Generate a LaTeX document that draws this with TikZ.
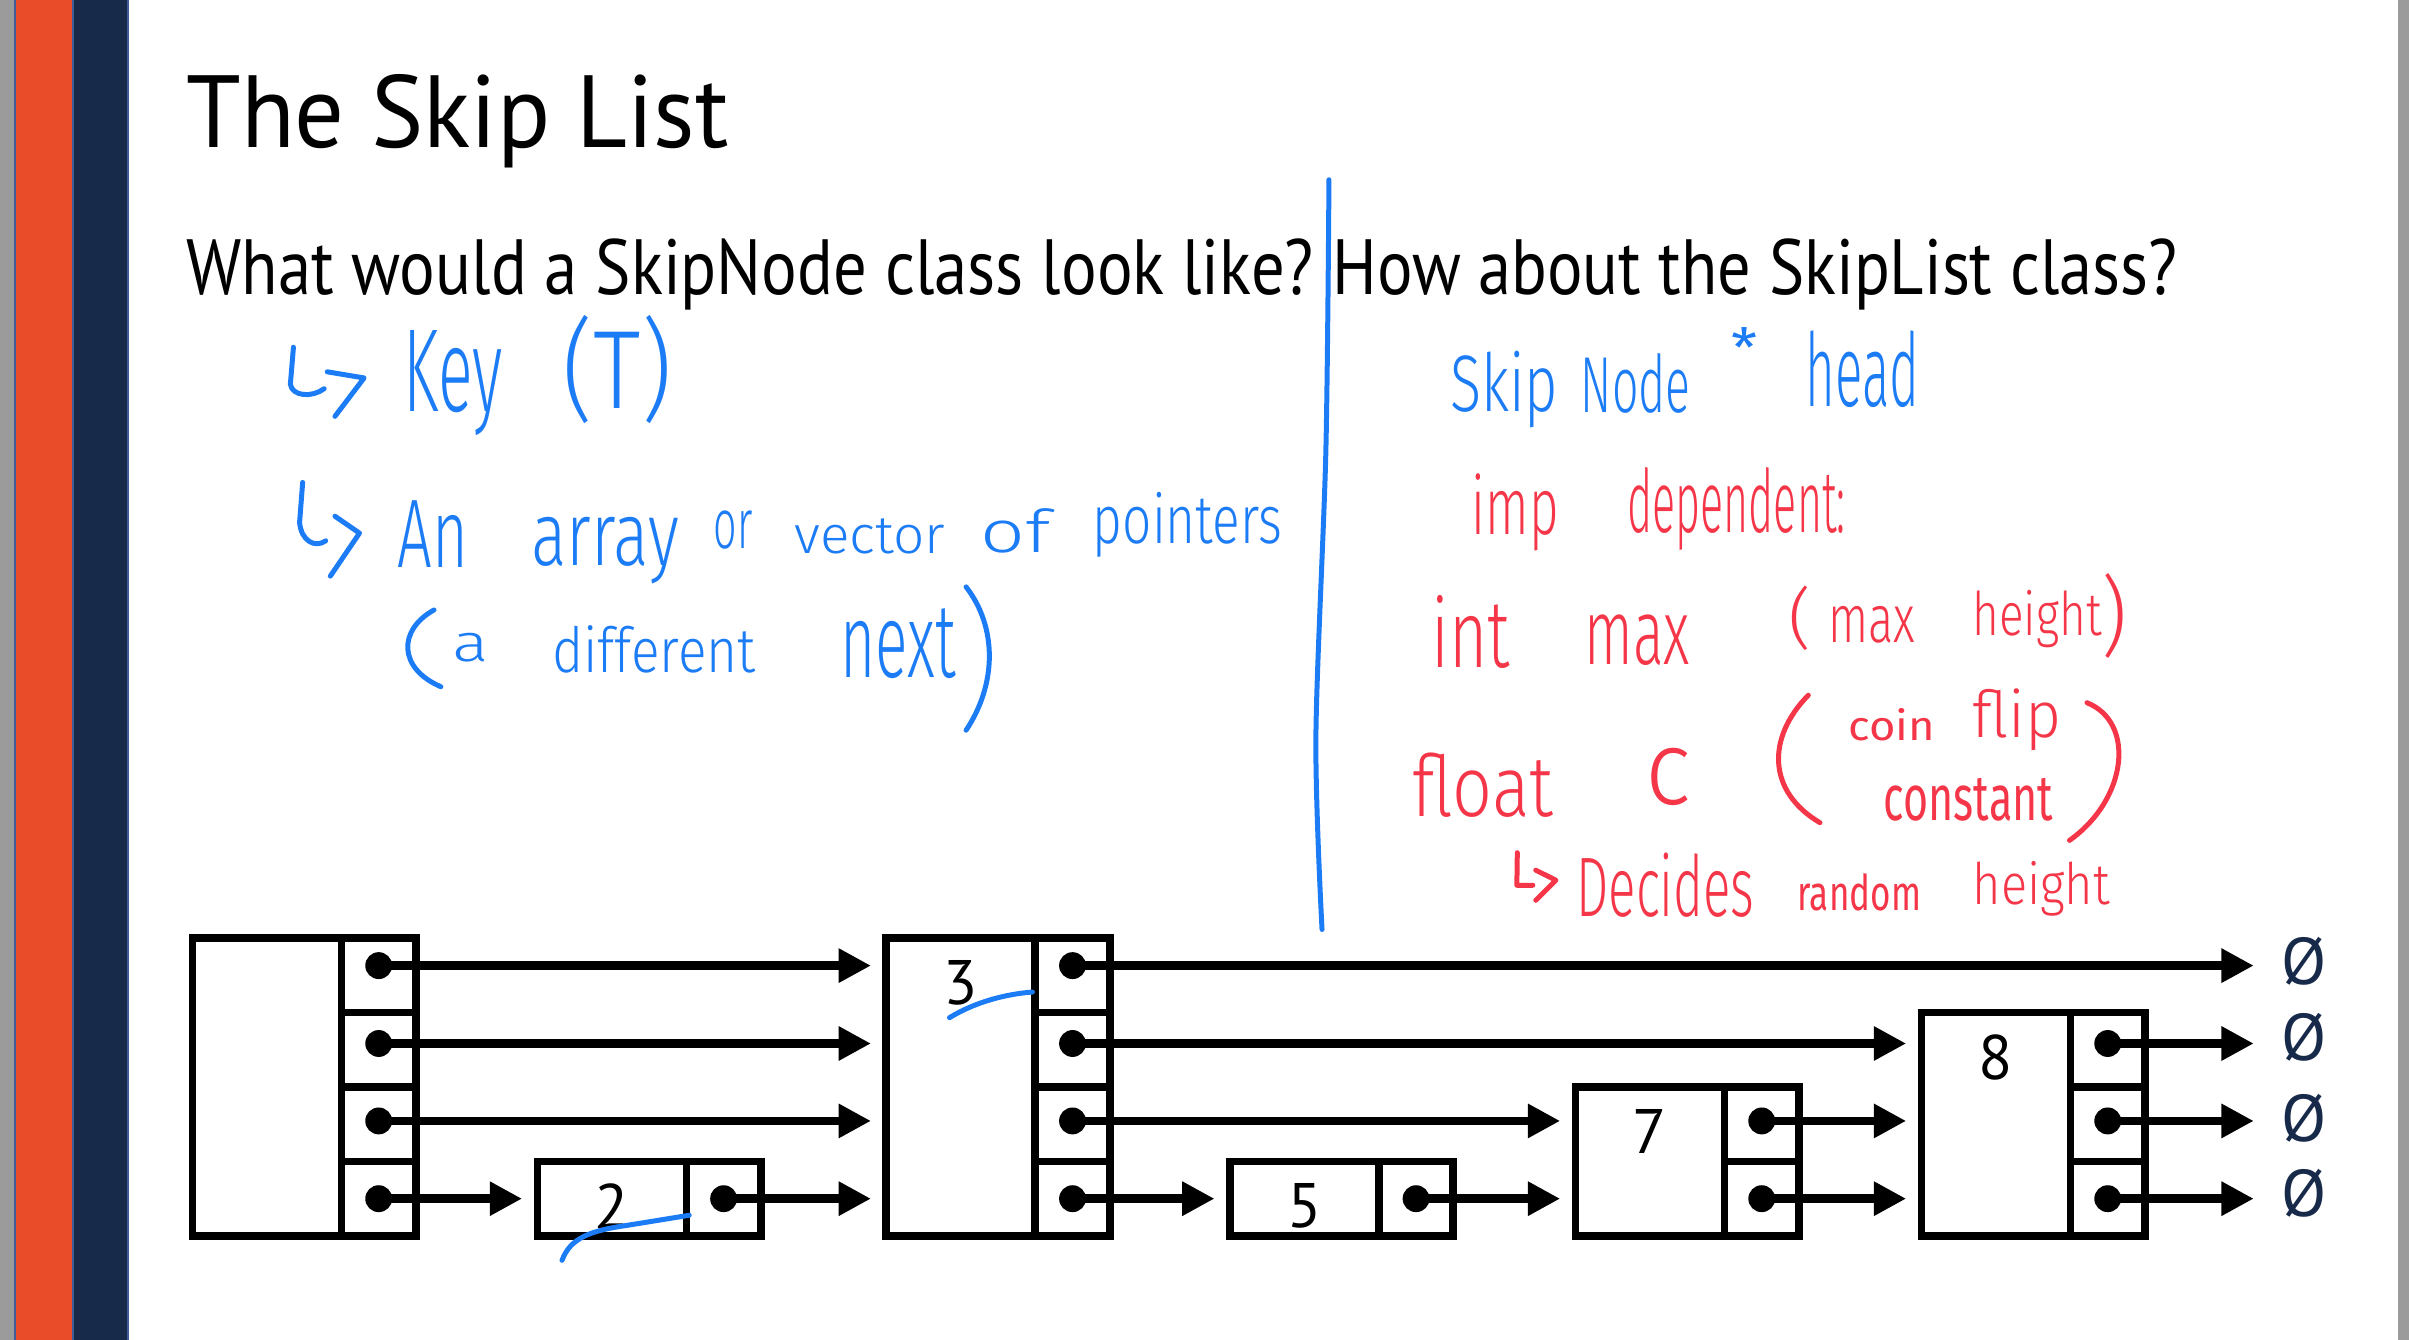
\documentclass[tikz,border=0pt]{standalone}
\usepackage{graphicx}
\usepackage{fontspec}
\setmainfont{PT Sans}
\newfontfamily\hand{Fira Sans Light}
\newfontfamily\handr{Fira Sans}
\usetikzlibrary{arrows.meta}
\newdimen\pu \pu=0.02cm
% handwritten word squeezed into a given ink box (width, total height)
\newcommand\hw[3]{\resizebox*{#1\pu}{#2\pu}{\hand #3}}
% same, with a heavier pen for the small words
\newcommand\hwr[3]{\resizebox*{#1\pu}{#2\pu}{\handr #3}}
\definecolor{slideorange}{RGB}{232,76,40}
\definecolor{slidenavy}{RGB}{24,42,74}
\definecolor{slideedge}{RGB}{62,92,150}
\definecolor{slidegray}{RGB}{155,155,155}
\definecolor{inkblue}{RGB}{28,124,245}
\definecolor{inkred}{RGB}{244,54,72}
\begin{document}
\begin{tikzpicture}[x=0.02cm,y=-0.02cm,
  keybox/.style={draw, line width=0.1cm, inner sep=0, outer sep=0, minimum width=1.94cm, minimum height=#1},
  cellbox/.style={draw, line width=0.1cm, inner sep=0, outer sep=0, minimum width=0.968cm, minimum height=0.97cm},
  digit/.style={inner sep=0, anchor=north, font=\fontsize{23.3}{28}\selectfont},
  dotn/.style={circle, fill=black, inner sep=0, minimum size=0.35cm},
  ptr/.style={line width=0.11cm, -{Triangle[length=0.42cm,width=0.42cm]}, shorten >=0.2cm},
  tonull/.style={ptr, shorten >=0.36cm},
  nullsym/.style={inner sep=0, text=slidenavy, font=\fontsize{24.5}{30}\selectfont},
  heading/.style={inner sep=0, anchor=base west},
  word/.style={inner sep=0, anchor=north west},
  blueword/.style={word, text=inkblue},
  redword/.style={word, text=inkred},
  ink/.style={line width=0.065cm, line cap=round, line join=round},
]
\useasboundingbox (0,0) rectangle (1568,872);

% side bars
\fill[slidegray] (0,0) rectangle (9.5,872);
\fill[slideorange] (9.5,0) rectangle (47.5,872);
\fill[slidenavy] (47.5,0) rectangle (83.5,872);
\draw[slideedge, line width=0.025cm] (9.5,0) -- (9.5,872) (47.5,0) -- (47.5,872) (83.5,0) -- (83.5,872);
\fill[slidegray] (1561,0) rectangle (1568,872);

% headings
\node[heading, font=\fontsize{38}{46}\selectfont] (title) at (121,96) {\scalebox{0.96}[1]{The Skip List}};
\node[heading, font=\fontsize{29}{35}\selectfont] (qleft) at (121,192) {\scalebox{0.852}[1]{What would a SkipNode class look like?}};
\node[heading, font=\fontsize{29}{35}\selectfont] (qright) at (867,192) {\scalebox{0.848}[1]{How about the SkipList class?}};

% divider stroke
\draw[ink, inkblue] plot[smooth] coordinates {(865,117) (863,293) (856.5,480) (860.5,605)};

% notes on the node class
\draw[ink, inkblue] (191,226) -- (189,250) .. controls (190,258) and (203,259) .. (211,253);
\draw[ink, inkblue] (213,242) -- (237,246) -- (218,271);
\node[blueword] (wKey) at (262.4,214.8) {\hw{64.6}{68.4}{Key}};
\node[blueword] (wT) at (366,205) {\hw{71}{70.6}{(T)}};
\draw[ink, inkblue] (197,314) -- (195,340) .. controls (196,352) and (205,357) .. (212,352);
\draw[ink, inkblue] (218,336) -- (234,347) -- (215,375);
\node[blueword] (wAn) at (258.5,325.5) {\hw{45.9}{43.5}{An}};
\node[blueword] (wArray) at (345.5,336.4) {\hw{96}{43.4}{array}};
\node[blueword] (wOr) at (464.2,332) {\hw{25.3}{25}{or}};
\node[blueword] (wVector) at (516.8,337) {\hw{98.2}{23}{vector}};
\node[blueword] (wOf) at (638,331) {\hw{45.6}{29}{of}};
\node[blueword] (wPointers) at (711,320) {\hw{123.4}{42.4}{pointers}};
\draw[ink, inkblue] (282.5,397) .. controls (259,410) and (259,435) .. (287,447);
\node[blueword] (wA) at (294.3,412) {\hw{23.7}{18.8}{a}};
\node[blueword] (wDifferent) at (359,407) {\hw{132.5}{31}{different}};
\node[blueword] (wNext) at (546.5,396) {\hw{75.2}{45.6}{next}};
\draw[ink, inkblue] (628.8,382) .. controls (649,408) and (649,445) .. (628.8,475.3);

% notes on the list class
\node[blueword] (wSkip) at (943.6,228) {\hw{70.4}{50}{Skip}};
\node[blueword] (wNode) at (1028.6,229.5) {\hw{71.4}{39}{Node}};
\node[blueword] (wStar) at (1126.6,213) {\hwr{17}{26}{*}};
\node[blueword] (wHead) at (1175,215) {\hw{74}{50}{head}};
\node[redword] (wImp) at (957.7,307.6) {\hw{56.6}{50.4}{imp}};
\node[redword] (wDep) at (1059,304) {\hw{142}{54}{dependent:}};
\node[redword] (wInt) at (931.7,387) {\hw{51}{47.6}{int}};
\node[redword] (wMax) at (1031,400) {\hw{68.6}{33}{max}};
\node[redword] (wLp) at (1164,381) {\hw{15}{42}{(}};
\node[redword] (wMax2) at (1189.5,394) {\hw{56.5}{24}{max}};
\node[redword] (wHeight) at (1283.6,384) {\hw{84}{37.5}{height}};
\node[redword] (wRp) at (1367.7,372.7) {\hw{16.8}{55.3}{)}};
\node[redword] (wFloat) at (919,490) {\hw{91.8}{42}{float}};
\node[redword] (wC) at (1070.6,486.6) {\hw{29.8}{37.4}{c}};
\draw[ink, inkred] (1177,452.5) .. controls (1150,480) and (1150,515) .. (1184.6,535.5);
\node[redword] (wCoin) at (1203,460.6) {\hwr{56.3}{21.2}{coin}};
\node[redword] (wFlip) at (1283.6,447.6) {\hw{58}{40.4}{flip}};
\node[redword] (wConstant) at (1225.7,506) {\hwr{110.3}{28}{constant}};
\draw[ink, inkred] (1358.4,457.4) .. controls (1390,470) and (1385,520) .. (1347,547);
\draw[ink, inkred] (987.6,555) -- (987.3,576.2) -- (997.7,576.2);
\draw[ink, inkred] (999.6,566.4) -- (1012.7,572.9) -- (999.6,586);
\node[redword] (wDecides) at (1025.7,555) {\hw{116}{42}{Decides}};
\node[redword] (wRandom) at (1169.7,568) {\hwr{80.3}{24.4}{random}};
\node[redword] (wHeight2) at (1283.6,560) {\hw{89.4}{35.7}{height}};

% head node (4 levels)
\node[keybox=3.88cm, anchor=north west] (hk) at (125.3,610.5) {};
\node[cellbox, anchor=north west] (h1) at (222.3,610.5) {};
\node[cellbox, anchor=north west] (h2) at (222.3,659) {};
\node[cellbox, anchor=north west] (h3) at (222.3,707.5) {};
\node[cellbox, anchor=north west] (h4) at (222.3,756) {};
% node 2
\node[keybox=0.97cm, anchor=north west] (n2k) at (349.8,756) {};
\node[cellbox, anchor=north west] (n2p) at (446.8,756) {};
\node[digit] (n2v) at (398.3,770) {2};
% node 3
\node[keybox=3.88cm, anchor=north west] (n3k) at (576.9,610.5) {};
\node[cellbox, anchor=north west] (n3c1) at (673.9,610.5) {};
\node[cellbox, anchor=north west] (n3c2) at (673.9,659) {};
\node[cellbox, anchor=north west] (n3c3) at (673.9,707.5) {};
\node[cellbox, anchor=north west] (n3c4) at (673.9,756) {};
\node[digit] (n3v) at (625.4,624.5) {3};
% node 5
\node[keybox=0.97cm, anchor=north west] (n5k) at (800.5,756) {};
\node[cellbox, anchor=north west] (n5p) at (897.5,756) {};
\node[digit] (n5v) at (849,770) {5};
% node 7
\node[keybox=1.94cm, anchor=north west] (n7k) at (1025.5,707.5) {};
\node[cellbox, anchor=north west] (n7c3) at (1122.5,707.5) {};
\node[cellbox, anchor=north west] (n7c4) at (1122.5,756) {};
\node[digit] (n7v) at (1074,722) {7};
% node 8
\node[keybox=2.91cm, anchor=north west] (n8k) at (1250.7,659) {};
\node[cellbox, anchor=north west] (n8c2) at (1347.7,659) {};
\node[cellbox, anchor=north west] (n8c3) at (1347.7,707.5) {};
\node[cellbox, anchor=north west] (n8c4) at (1347.7,756) {};
\node[digit] (n8v) at (1299.2,673) {8};

% null markers
\node[nullsym] (z1) at (1500,625.5) {Ø};
\node[nullsym] (z2) at (1500,675) {Ø};
\node[nullsym] (z3) at (1500,728) {Ø};
\node[nullsym] (z4) at (1500,777) {Ø};

% pointer dots
\node[dotn] (dh1) at (246.5,628.5) {};
\node[dotn] (dh2) at (246.5,679.2) {};
\node[dotn] (dh3) at (246.5,729.6) {};
\node[dotn] (dh4) at (246.5,780.2) {};
\node[dotn] (dn2) at (471,780.2) {};
\node[dotn] (dn31) at (698.1,628.5) {};
\node[dotn] (dn32) at (698.1,679.2) {};
\node[dotn] (dn33) at (698.1,729.6) {};
\node[dotn] (dn34) at (698.1,780.2) {};
\node[dotn] (dn5) at (921.7,780.2) {};
\node[dotn] (dn73) at (1146.7,729.6) {};
\node[dotn] (dn74) at (1146.7,780.2) {};
\node[dotn] (dn82) at (1371.9,679.2) {};
\node[dotn] (dn83) at (1371.9,729.6) {};
\node[dotn] (dn84) at (1371.9,780.2) {};

% forward pointers
\draw[ptr] (dh1.center) -- (n3k.west |- dh1.center);
\draw[ptr] (dh2.center) -- (n3k.west |- dh2.center);
\draw[ptr] (dh3.center) -- (n3k.west |- dh3.center);
\draw[ptr] (dh4.center) -- (n2k.west |- dh4.center);
\draw[ptr] (dn2.center) -- (n3k.west |- dn2.center);
\draw[tonull] (dn31.center) -- (z1.west |- dn31.center);
\draw[ptr] (dn32.center) -- (n8k.west |- dn32.center);
\draw[ptr] (dn33.center) -- (n7k.west |- dn33.center);
\draw[ptr] (dn34.center) -- (n5k.west |- dn34.center);
\draw[ptr] (dn5.center) -- (n7k.west |- dn5.center);
\draw[ptr] (dn73.center) -- (n8k.west |- dn73.center);
\draw[ptr] (dn74.center) -- (n8k.west |- dn74.center);
\draw[tonull] (dn82.center) -- (z2.west |- dn82.center);
\draw[tonull] (dn83.center) -- (z3.west |- dn83.center);
\draw[tonull] (dn84.center) -- (z4.west |- dn84.center);

% pen marks over the key cells
\draw[ink, inkblue] (618,662.4) .. controls (635,652) and (655,647) .. (672,645.7);
\draw[ink, inkblue] (365.8,820.4) .. controls (371,806) and (384,801) .. (408,797.6) -- (448.6,791);
\end{tikzpicture}
\end{document}
